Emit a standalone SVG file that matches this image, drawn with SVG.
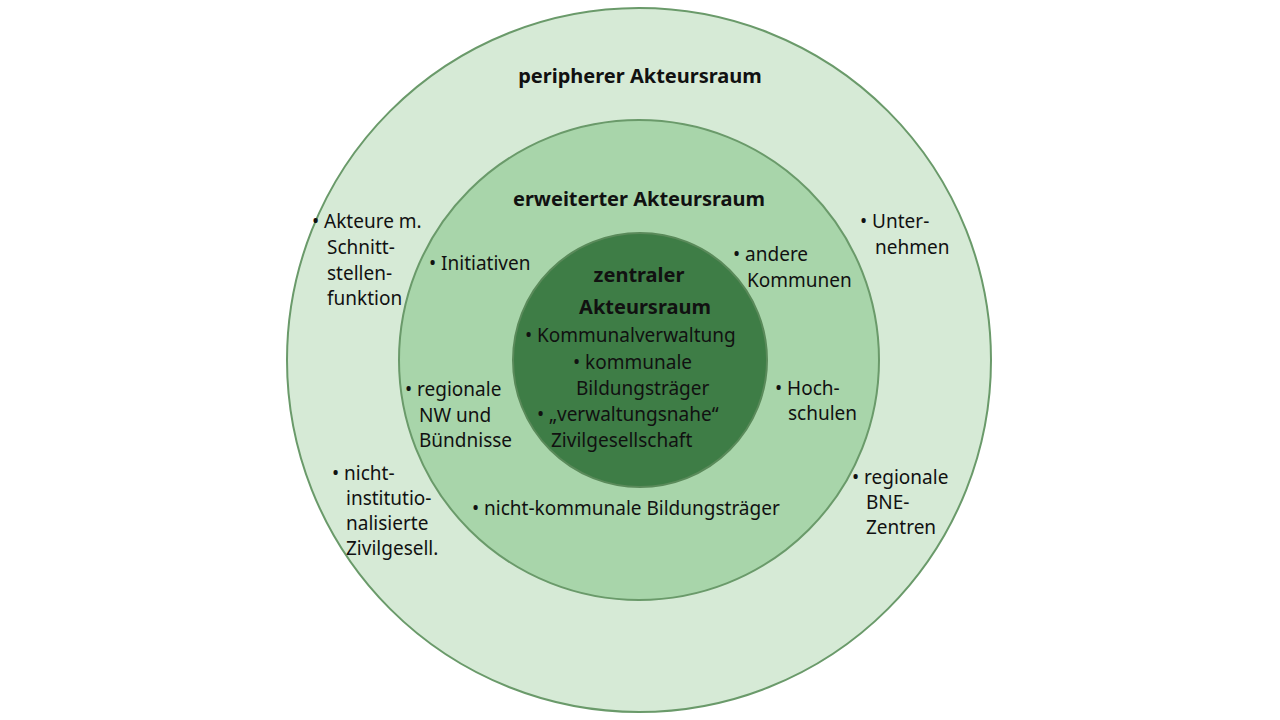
<svg xmlns="http://www.w3.org/2000/svg" width="1280" height="720" viewBox="0 0 1280 720">
<style>
text{font-family:"Noto Sans","Liberation Sans",sans-serif;font-size:19px;fill:#111}
.t{font-weight:bold;font-size:20px}
</style>
<rect width="1280" height="720" fill="#fff"/>
<g id="outer"><circle cx="639" cy="360" r="352" fill="#d6ead6" stroke="#6a9a6a" stroke-width="2"/>
<text class="t" x="640" y="83" text-anchor="middle">peripherer Akteursraum</text>
<text x="312" y="228">• Akteure m.</text><text x="327" y="254">Schnitt-</text><text x="327" y="280">stellen-</text><text x="327" y="305">funktion</text>
<text x="860" y="228">• Unter-</text><text x="875" y="254">nehmen</text>
<text x="332" y="480">• nicht-</text><text x="346" y="505">institutio-</text><text x="346" y="530">nalisierte</text><text x="346" y="555">Zivilgesell.</text>
<text x="852" y="484">• regionale</text><text x="866" y="509">BNE-</text><text x="866" y="534">Zentren</text>
</g>
<g id="middle"><circle cx="639" cy="360" r="240" fill="#a8d5aa" stroke="#6a9a6a" stroke-width="2"/>
<text class="t" x="639" y="206" text-anchor="middle">erweiterter Akteursraum</text>
<text x="429" y="270">• Initiativen</text>
<text x="733" y="261">• andere</text><text x="747" y="287">Kommunen</text>
<text x="405" y="396">• regionale</text><text x="419" y="422">NW und</text><text x="419" y="447">Bündnisse</text>
<text x="775" y="395">• Hoch-</text><text x="788" y="420">schulen</text>
<text x="472" y="515">• nicht-kommunale Bildungsträger</text>
</g>
<g id="inner"><circle cx="640" cy="360" r="127" fill="#3e7d46" stroke="#5a8a5a" stroke-width="2"/>
<text class="t" x="639" y="282" text-anchor="middle">zentraler</text>
<text class="t" x="645" y="314" text-anchor="middle">Akteursraum</text>
<text x="525" y="342">• Kommunalverwaltung</text>
<text x="573" y="369">• kommunale</text><text x="576" y="395">Bildungsträger</text>
<text x="537" y="421">• „verwaltungsnahe“</text><text x="551" y="447">Zivilgesellschaft</text>
</g>
<g id="connectors"/>
</svg>
